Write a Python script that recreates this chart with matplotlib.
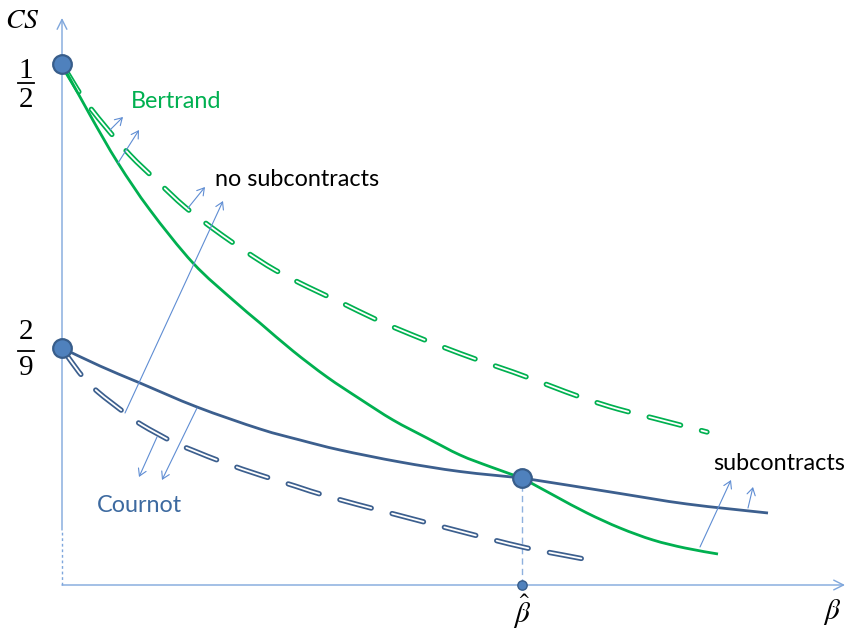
import matplotlib
matplotlib.use("Agg")
import matplotlib.pyplot as plt
from matplotlib.patches import FancyArrowPatch, PathPatch
from matplotlib.path import Path

plt.rcParams['lines.scale_dashes'] = False
plt.rcParams['mathtext.fontset'] = 'stix'

# ---------------- data (beta units, CS units) ----------------
bertrand_sub_x = [0.00, 0.28, 0.56, 0.88, 1.31, 1.71, 1.98, 2.31, 2.65, 2.98, 3.31, 3.65,
                  3.98, 4.29, 4.60]
bertrand_sub_y = [0.521, 0.470, 0.422, 0.375, 0.322, 0.285, 0.262, 0.234, 0.208, 0.186, 0.165, 0.147,
                  0.130, 0.118, 0.107]
bertrand_sub2_x = [4.60, 4.93, 5.25, 5.58, 5.91, 6.23, 6.56]
bertrand_sub2_y = [0.107, 0.089, 0.072, 0.057, 0.045, 0.037, 0.031]

cournot_sub_x = [0.00, 0.38, 0.78, 1.35, 1.98, 2.38, 2.78, 3.38, 3.98, 4.60]
cournot_sub_y = [0.237, 0.219, 0.202, 0.178, 0.156, 0.145, 0.135, 0.123, 0.1135, 0.107]
cournot_sub2_x = [4.60, 5.08, 5.58, 6.25, 7.06]
cournot_sub2_y = [0.107, 0.0995, 0.0915, 0.081, 0.072]

bertrand_nosub_x = [0.00, 0.21, 0.42, 0.68, 0.95, 1.23, 1.53, 1.83, 2.13, 2.46, 2.80, 3.13,
                    3.48, 3.81, 4.16, 4.51, 4.86, 5.21, 5.56, 5.91, 6.18, 6.45]
bertrand_nosub_y = [0.521, 0.487, 0.460, 0.430, 0.404, 0.378, 0.355, 0.334, 0.315, 0.298, 0.282, 0.266,
                    0.251, 0.238, 0.225, 0.213, 0.200, 0.187, 0.176, 0.167, 0.160, 0.153]

cournot_nosub_x = [0.00, 0.06, 0.21, 0.36, 0.63, 0.80, 1.11, 1.30, 1.63, 1.98, 2.33, 2.68,
                   3.28, 3.93, 4.28, 4.65, 5.01, 5.38]
cournot_nosub_y = [0.237, 0.228, 0.208, 0.193, 0.172, 0.160, 0.143, 0.135, 0.122, 0.110, 0.099, 0.088,
                   0.072, 0.055, 0.046, 0.037, 0.030, 0.023]

cs_bertrand = 0.521      # labelled 1/2
cs_cournot = 0.237       # labelled 2/9
beta_hat = 4.60
cs_hat = 0.107

# shift arrows: start and end
arrows_x0 = [0.48, 0.56, 1.26, 0.63, 1.35, 0.95, 6.38, 6.86]
arrows_y0 = [0.455, 0.422, 0.377, 0.172, 0.177, 0.148, 0.038, 0.077]
arrows_x1 = [0.61, 0.77, 1.43, 1.61, 1.00, 0.77, 6.69, 6.91]
arrows_y1 = [0.468, 0.455, 0.398, 0.384, 0.105, 0.108, 0.105, 0.098]

# ---------------- style ----------------
GREEN = '#00b050'
NAVY = '#3c5f8e'
AXIS = '#7ea6dc'
ARROW = '#5f8dd3'
DOT_FILL = '#4f81bd'
DOT_EDGE = '#385d8a'
TXT_BLUE = '#3d6aa0'

fig = plt.figure(figsize=(8.47, 6.34), dpi=100)
ax = fig.add_axes([0, 0, 1, 1])
ax.set_xlim(-0.62, 7.85)
ax.set_ylim(-0.049, 0.585)
ax.axis('off')


def smooth_path(xs, ys):
    """Smooth path through the given points (Catmull-Rom as cubic Bezier)."""
    pts = list(zip(xs, ys))
    n = len(pts)
    verts = [pts[0]]
    codes = [Path.MOVETO]
    for i in range(n - 1):
        p0 = pts[i - 1] if i > 0 else pts[i]
        p1 = pts[i]
        p2 = pts[i + 1]
        p3 = pts[i + 2] if i + 2 < n else pts[i + 1]
        c1 = (p1[0] + (p2[0] - p0[0]) / 6, p1[1] + (p2[1] - p0[1]) / 6)
        c2 = (p2[0] - (p3[0] - p1[0]) / 6, p2[1] - (p3[1] - p1[1]) / 6)
        verts += [c1, c2, p2]
        codes += [Path.CURVE4] * 3
    return Path(verts, codes)


def curve(xs, ys, **kw):
    ax.add_patch(PathPatch(smooth_path(xs, ys), fill=False, **kw))


# axes
y_top = 0.567
x_right = 7.83
ax.annotate('', xy=(0, y_top), xytext=(0, 0.055),
            arrowprops=dict(arrowstyle='->,head_length=0.7,head_width=0.35', color=AXIS, lw=1.0,
                            shrinkA=0, shrinkB=0, mutation_scale=10))
ax.plot([0, 0], [0, 0.055], color=AXIS, lw=1.0, ls=(0, (2, 2)))
ax.annotate('', xy=(x_right, 0), xytext=(0, 0),
            arrowprops=dict(arrowstyle='->,head_length=0.7,head_width=0.35', color=AXIS, lw=1.0,
                            shrinkA=0, shrinkB=0, mutation_scale=10))

# beta-hat guide
ax.plot([beta_hat, beta_hat], [0, cs_hat], color='#8eb0de', lw=1.0, ls=(0, (4.5, 3)))

# dashed double-line curves
dash = (0, (23.4, 15.5))
for xs, ys, c in [(bertrand_nosub_x, bertrand_nosub_y, GREEN),
                  (cournot_nosub_x, cournot_nosub_y, NAVY)]:
    curve(xs, ys, edgecolor=c, lw=3.8, ls=dash, capstyle='round', zorder=2)
    curve(xs, ys, edgecolor='white', lw=1.3, ls=dash, capstyle='round', zorder=2.1)

# solid curves
for xs, ys in [(cournot_sub_x, cournot_sub_y), (cournot_sub2_x, cournot_sub2_y)]:
    curve(xs, ys, edgecolor=NAVY, lw=2.0, zorder=3)
for xs, ys in [(bertrand_sub_x, bertrand_sub_y), (bertrand_sub2_x, bertrand_sub2_y)]:
    curve(xs, ys, edgecolor=GREEN, lw=2.0, zorder=3)

# shift arrows
for x0, y0, x1, y1 in zip(arrows_x0, arrows_y0, arrows_x1, arrows_y1):
    ax.add_patch(FancyArrowPatch((x0, y0), (x1, y1),
                                 arrowstyle='->,head_length=0.5,head_width=0.3',
                                 mutation_scale=10, color=ARROW, lw=0.8,
                                 shrinkA=0, shrinkB=0, zorder=4))

# dots
ax.scatter([0, 0, beta_hat], [cs_bertrand, cs_cournot, cs_hat], s=180,
           color=DOT_FILL, edgecolor=DOT_EDGE, linewidth=1.6, zorder=6)
ax.scatter([beta_hat], [0], s=45, color=DOT_FILL, edgecolor=DOT_EDGE, linewidth=1.0, zorder=6)

# texts
ax.text(-0.40, 0.565, r'$CS$', fontsize=20, ha='center', va='center')
ax.text(7.70, -0.027, r'$\beta$', fontsize=21, ha='center', va='center')
ax.text(beta_hat, -0.027, r'$\hat{\beta}$', fontsize=21, ha='center', va='center')

frac_kw = dict(fontsize=21, ha='center', va='center', family='Liberation Serif')
ax.text(-0.36, 0.514, '1', **frac_kw)
ax.text(-0.36, 0.485, '2', **frac_kw)
ax.plot([-0.44, -0.28], [0.502, 0.502], color='black', lw=1.3)
ax.text(-0.36, 0.253, '2', **frac_kw)
ax.text(-0.36, 0.217, '9', **frac_kw)
ax.plot([-0.44, -0.28], [0.234, 0.234], color='black', lw=1.3)

lab_kw = dict(fontsize=16.8, family='Lato', va='center', ha='left')
ax.text(0.69, 0.484, 'Bertrand', color=GREEN, **lab_kw)
ax.text(1.53, 0.405, 'no subcontracts', color='black', **lab_kw)
ax.text(0.35, 0.080, 'Cournot', color=TXT_BLUE, **lab_kw)
ax.text(6.51, 0.122, 'subcontracts', color='black', **lab_kw)

fig.savefig('out.png', dpi=100)
